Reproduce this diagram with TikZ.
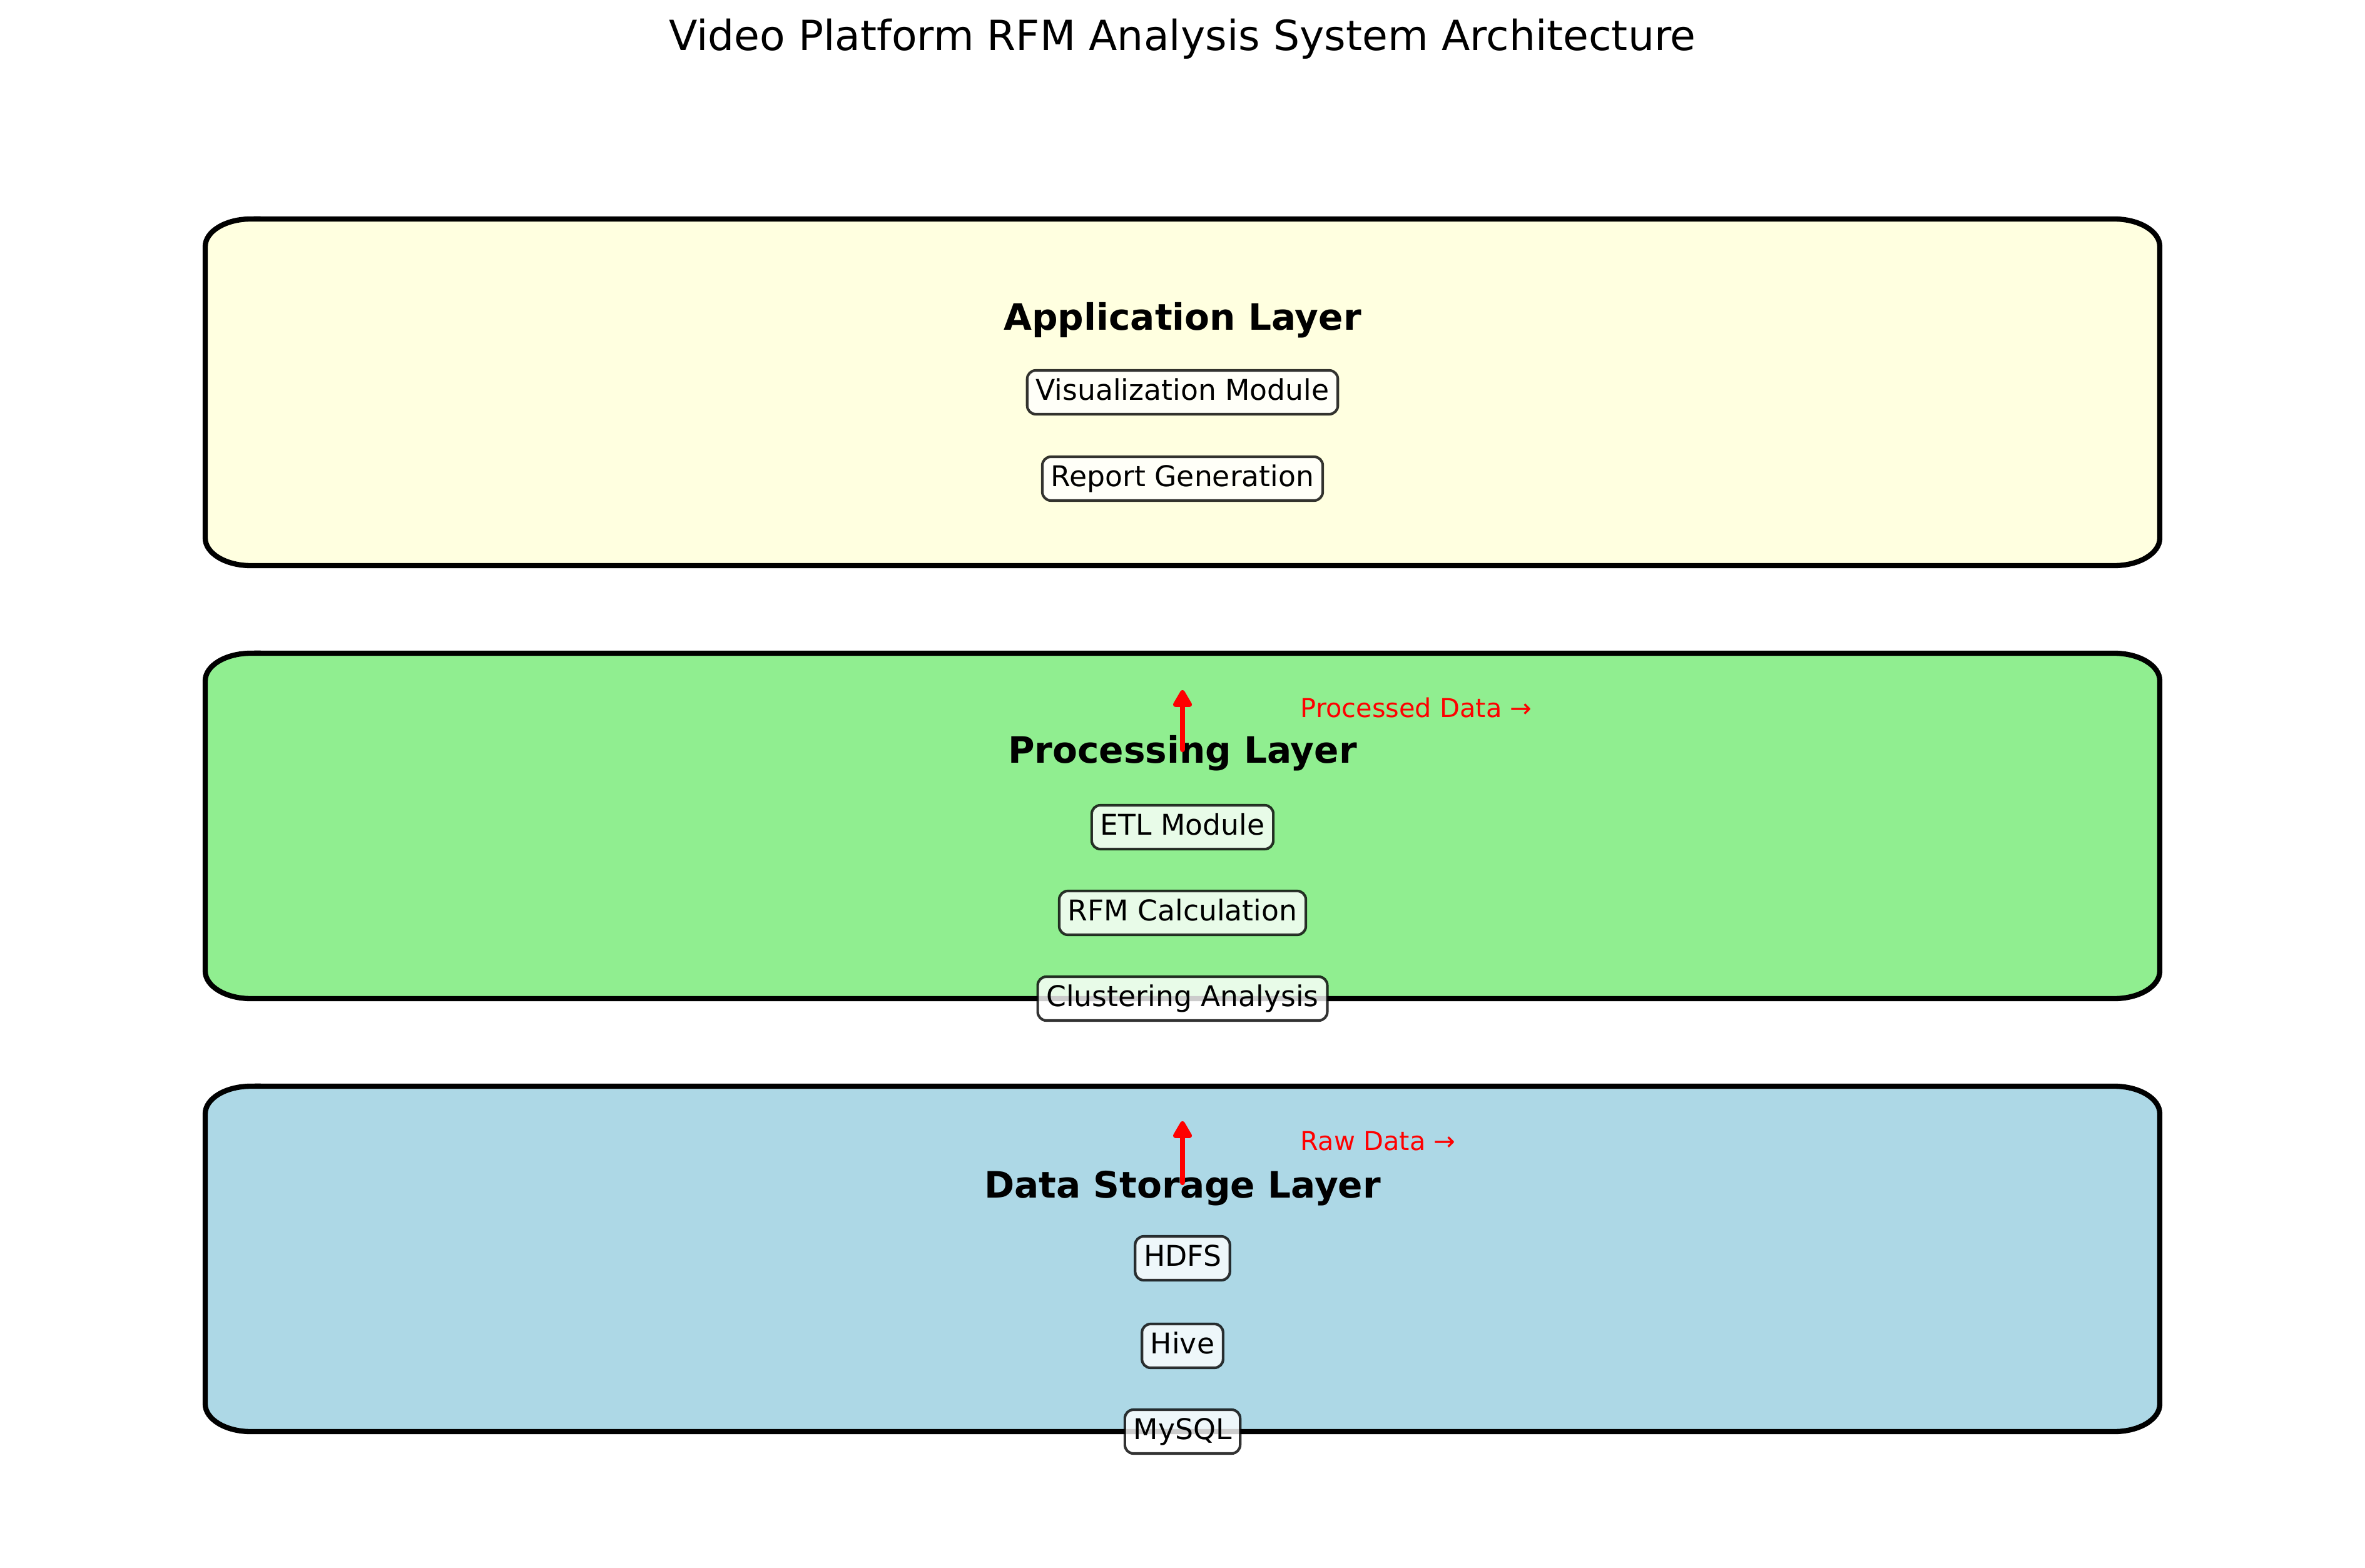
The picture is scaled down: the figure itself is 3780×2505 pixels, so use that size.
\documentclass[tikz,border=0pt]{standalone}
\usepackage{fontspec}
\setmainfont{DejaVu Sans}
\usetikzlibrary{arrows.meta}
\definecolor{appfill}{HTML}{FFFFE0}
\definecolor{procfill}{HTML}{90EE90}
\definecolor{datafill}{HTML}{ADD8E6}
\newcommand{\layerbox}[6]{%
  \draw[layer, fill=#5] ({#1+73},#4) -- ({#3-73},#4)
    arc[start angle=90, end angle=0, x radius=17.52bp, y radius=10.56bp]
    -- (#3,{#2+44})
    arc[start angle=0, end angle=-90, x radius=17.52bp, y radius=10.56bp]
    -- ({#1+73},#2)
    arc[start angle=270, end angle=180, x radius=17.52bp, y radius=10.56bp]
    -- (#1,{#4-44})
    arc[start angle=180, end angle=90, x radius=17.52bp, y radius=10.56bp]
    -- cycle;
  \coordinate (#6) at ({(#1+#3)/2},{(#2+#4)/2});
}
\begin{document}
\begin{tikzpicture}[x=0.24bp, y=0.24bp,
  layer/.style={draw=black, line width=2bp},
  ltitle/.style={font=\fontsize{14}{17}\bfseries, inner sep=0pt, text height=10.6bp, text depth=3.4bp},
  item/.style={draw=black, draw opacity=0.8, fill=white, fill opacity=0.8, text opacity=1,
    rounded corners=3.3bp, line width=1bp, font=\fontsize{11}{13}\selectfont,
    inner xsep=3.3bp, inner ysep=3.1bp, text height=8.3bp, text depth=2.3bp},
  flow/.style={draw=red, fill=red, line width=2bp, line cap=round, -{Triangle[length=7.5bp, width=8bp, round]}},
  flowlabel/.style={text=red, font=\fontsize{10}{12}\selectfont, anchor=west, inner sep=0pt, text height=7.3bp, text depth=2.2bp}
]
\useasboundingbox (0,0) rectangle (3780,2505);

\node[font=\fontsize{16}{19}\selectfont, inner sep=0pt, text height=12bp, text depth=3.6bp] (title) at (1890,2442) {Video Platform RFM Analysis System Architecture};

% layer boxes
\layerbox{328}{1601}{3452}{2155}{appfill}{applayer}
\layerbox{328}{909}{3452}{1461}{procfill}{proclayer}
\layerbox{328}{217}{3452}{769}{datafill}{datalayer}

% Application layer
\node[ltitle] (apptitle) at (1890,1992) {Application Layer};
\node[item] (vis) at (1890,1878) {Visualization Module};
\node[item] (rep) at (1890,1740) {Report Generation};

% Processing layer
\node[ltitle] (proctitle) at (1890,1301) {Processing Layer};
\node[item] (etl) at (1890,1183) {ETL Module};
\node[item] (rfm) at (1890,1046) {RFM Calculation};
\node[item] (clu) at (1890,909) {Clustering Analysis};

% Data storage layer
\node[ltitle] (datatitle) at (1890,606) {Data Storage Layer};
\node[item] (hdfs) at (1890,494) {HDFS};
\node[item] (hive) at (1890,354) {Hive};
\node[item] (mysql) at (1890,217) {MySQL};

% flows
\coordinate (pa1) at (1890,1307);
\coordinate (pa2) at (1890,1402);
\draw[flow] (pa1) -- (pa2);
\node[flowlabel] (plab) at (2078,1369) {Processed Data →};

\coordinate (da1) at (1890,615);
\coordinate (da2) at (1890,713);
\draw[flow] (da1) -- (da2);
\node[flowlabel] (dlab) at (2078,677) {Raw Data →};
\end{tikzpicture}
\end{document}
